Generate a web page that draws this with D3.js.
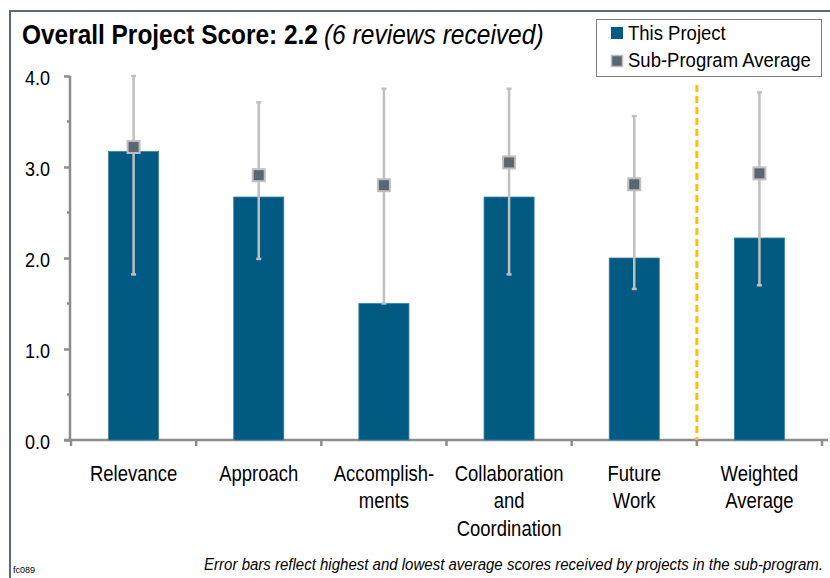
<!DOCTYPE html>
<html>
<head>
<meta charset="utf-8">
<script src="https://cdn.jsdelivr.net/npm/d3@7"></script>
<style>
  html, body { margin: 0; padding: 0; background: #fff; }
  svg { display: block; font-family: "Liberation Sans", Arial, sans-serif; }
</style>
</head>
<body>
<svg id="chart" width="830" height="578"></svg>
<script>
// Category labels (one entry per line of the axis label)
const categories = [
  ["Relevance"],
  ["Approach"],
  ["Accomplish-", "ments"],
  ["Collaboration", "and", "Coordination"],
  ["Future", "Work"],
  ["Weighted", "Average"]
];
// Scores for this project
const projectScores = [3.17, 2.67, 1.5, 2.67, 2.0, 2.22];
// Sub-program average per criterion
const subProgramAvg = [3.22, 2.91, 2.80, 3.05, 2.81, 2.93];
// Highest and lowest average scores in the sub-program
const rangeHigh = [4.0, 3.71, 3.86, 3.86, 3.56, 3.82];
const rangeLow = [1.82, 1.99, 1.50, 1.82, 1.66, 1.70];
// Axis ticks
const yTicks = [0, 1, 2, 3, 4];
const yMinorTicks = [0.5, 1.5, 2.5, 3.5];
const yTickLabels = ["0.0", "1.0", "2.0", "3.0", "4.0"];

const titleMain = "Overall Project Score: 2.2";
const titleNote = "(6 reviews received)";
const legendLabels = ["This Project", "Sub-Program Average"];
const footnote = "Error bars reflect highest and lowest average scores received by projects in the sub-program.";
const figureId = "fc089";

const BAR = "#005a82", BAR_EDGE = "#3a7ea0", MARK = "#5b6670", ERR = "#bfbfbf", AXIS = "#8c8c8c";

const svg = d3.select("#chart");
const keys = categories.map((c, i) => i);

// Condense text horizontally (narrow face) around its anchor x
function squash(sel, k) {
  sel.each(function () {
    let ax = this.getAttribute("x");
    if (ax === null) {
      const ts = this.querySelector("tspan");
      ax = ts ? ts.getAttribute("x") : 0;
    }
    ax = +ax;
    this.setAttribute("transform", `translate(${ax},0) scale(${k},1) translate(${-ax},0)`);
  });
}

const x = d3.scaleBand().domain(keys).range([71, 822]).padding(0);
const y = d3.scaleLinear().domain([0, 4]).range([440, 76]);
const barW = x.bandwidth() * 0.4;

// Frame
svg.append("path").attr("d", "M10,578V11H830")
  .attr("fill", "none").attr("stroke", "#5b6a75").attr("stroke-width", 2);

// Title
const t1 = svg.append("text").attr("x", 22).attr("y", 44)
  .attr("font-size", 27).attr("font-weight", "bold").attr("fill", "#000").text(titleMain);
squash(t1, 0.905);
const t1w = t1.node().getComputedTextLength() * 0.905;
const t2 = svg.append("text").attr("x", 22 + t1w + 6).attr("y", 44)
  .attr("font-size", 27).attr("font-style", "italic").attr("fill", "#000").text(titleNote);
squash(t2, 0.91);

// Y axis
const yAxis = d3.axisLeft(y).tickValues(yTicks).tickFormat((d, i) => yTickLabels[i]).tickSize(6).tickPadding(0);
const ya = svg.append("g").attr("transform", "translate(70,0)").call(yAxis);
ya.select(".domain").attr("stroke", AXIS).attr("stroke-width", 2.5).attr("d", `M0,${y(4)}V${y(0)}`);
ya.selectAll(".tick line").attr("stroke", AXIS).attr("stroke-width", 2.5);
ya.selectAll(".tick text").attr("font-size", 20).attr("fill", "#000")
  .attr("x", -20).attr("dy", "0.42em").style("font-family", "Liberation Sans, Arial, sans-serif");
squash(ya.selectAll(".tick text"), 0.9);
ya.selectAll(".minor").data(yMinorTicks).enter().append("line")
  .attr("x1", -3).attr("x2", 0).attr("y1", d => y(d)).attr("y2", d => y(d))
  .attr("stroke", AXIS).attr("stroke-width", 2.5);

// X axis
const xa = svg.append("g").attr("transform", `translate(0,${y(0)})`);
xa.append("line").attr("x1", 64).attr("x2", 828).attr("y1", 0).attr("y2", 0)
  .attr("stroke", AXIS).attr("stroke-width", 2.5);
const bounds = keys.map(k => x(k)).concat([x(keys[keys.length - 1]) + x.bandwidth()]);
xa.selectAll(".xt").data(bounds).enter().append("line")
  .attr("x1", d => d).attr("x2", d => d).attr("y1", 0).attr("y2", 6)
  .attr("stroke", AXIS).attr("stroke-width", 2.5);
const xl = xa.selectAll(".xl").data(categories).enter().append("text")
  .attr("text-anchor", "middle").attr("font-size", 22).attr("fill", "#000");
xl.selectAll("tspan").data((d, i) => d.map(s => ({ s, i }))).enter().append("tspan")
  .attr("x", d => x(d.i) + x.bandwidth() / 2)
  .attr("y", (d, j) => 41 + j * 27.5)
  .text(d => d.s);
squash(xl, 0.84);

// Divider before the weighted average
const divX = x(keys[keys.length - 1]);
svg.append("line").attr("x1", divX).attr("x2", divX).attr("y1", y(3.9)).attr("y2", y(0))
  .attr("stroke", "#ffc000").attr("stroke-width", 3).attr("stroke-dasharray", "7,4");

// Bars
svg.selectAll(".bar").data(projectScores).enter().append("rect")
  .attr("x", (d, i) => x(i) + x.bandwidth() / 2 - barW / 2)
  .attr("y", d => y(d)).attr("width", barW).attr("height", d => y(0) - y(d))
  .attr("fill", BAR).attr("stroke", BAR_EDGE).attr("stroke-width", 0.8);

// Error bars
const cx = i => x(i) + x.bandwidth() / 2;
svg.selectAll(".err").data(keys).enter().append("line")
  .attr("x1", cx).attr("x2", cx).attr("y1", i => y(rangeHigh[i])).attr("y2", i => y(rangeLow[i]))
  .attr("stroke", ERR).attr("stroke-width", 2.5);
[rangeHigh, rangeLow].forEach(arr => {
  svg.selectAll(null).data(keys).enter().append("line")
    .attr("x1", i => cx(i) - 2.5).attr("x2", i => cx(i) + 2.5)
    .attr("y1", i => y(arr[i])).attr("y2", i => y(arr[i]))
    .attr("stroke", ERR).attr("stroke-width", 2.5);
});

// Sub-program average markers
svg.selectAll(".mk").data(subProgramAvg).enter().append("rect")
  .attr("x", (d, i) => cx(i) - 6).attr("y", d => y(d) - 6)
  .attr("width", 12).attr("height", 12)
  .attr("fill", MARK).attr("stroke", ERR).attr("stroke-width", 2);

// Legend
const lg = svg.append("g");
lg.append("rect").attr("x", 596.5).attr("y", 19.5).attr("width", 225).attr("height", 57)
  .attr("fill", "#fff").attr("stroke", "#7f7f7f").attr("stroke-width", 1);
lg.append("rect").attr("x", 611).attr("y", 27).attr("width", 12).attr("height", 12).attr("fill", BAR);
lg.append("rect").attr("x", 611.5).attr("y", 55.5).attr("width", 11).attr("height", 11)
  .attr("fill", MARK).attr("stroke", ERR).attr("stroke-width", 1.5);
const lt = lg.selectAll(".lt").data(legendLabels).enter().append("text")
  .attr("x", 628).attr("y", (d, i) => 40 + i * 27.5)
  .attr("font-size", 19.5).attr("fill", "#000").text(d => d);
squash(lt, 0.95);

// Footnote and figure id
const fn = svg.append("text").attr("x", 823).attr("y", 570).attr("text-anchor", "end")
  .attr("font-size", 16.5).attr("font-style", "italic").attr("fill", "#000").text(footnote);
squash(fn, 0.91);
svg.append("text").attr("x", 13).attr("y", 573).attr("font-size", 9).attr("fill", "#000").text(figureId);
</script>
</body>
</html>
